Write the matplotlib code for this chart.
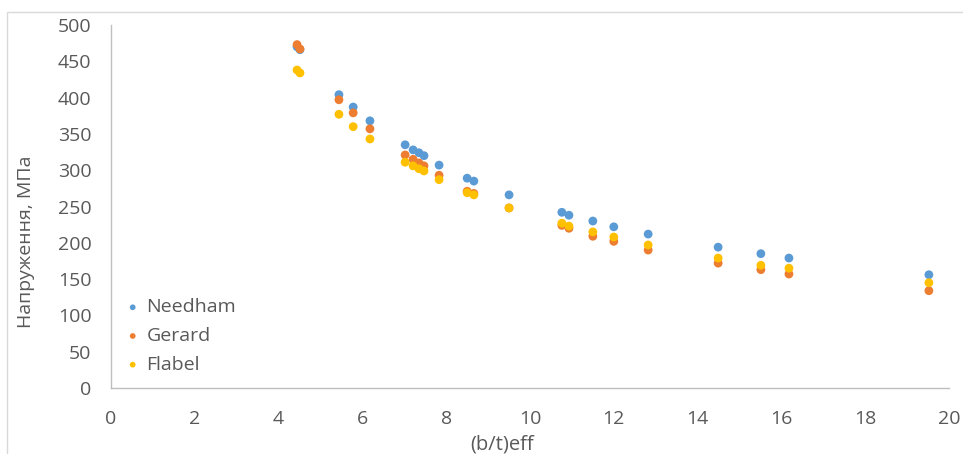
import matplotlib
matplotlib.use("Agg")
import matplotlib.pyplot as plt
from matplotlib.patches import Rectangle

# (b/t)eff values and stresses, MPa
bt_eff = [4.44, 4.51, 5.44, 5.78, 6.18, 7.02, 7.21, 7.35, 7.47, 7.83,
          8.50, 8.66, 9.50, 10.76, 10.93, 11.50, 12.00, 12.82, 14.49,
          15.51, 16.18, 19.52]
needham = [470, 466, 404, 387, 368, 335, 328, 324, 320, 307,
           289, 285, 266, 242, 238, 230, 222, 212, 194,
           185, 179, 156]
gerard = [473, 467, 397, 379, 357, 321, 315, 310, 306, 293,
          271, 268, 248, 224, 220, 209, 202, 190, 172,
          163, 157, 134]
flabel = [438, 434, 377, 360, 343, 311, 306, 302, 299, 287,
          269, 266, 248, 227, 223, 215, 208, 197, 179,
          169, 165, 145]

series = [("Needham", needham, "#5B9BD5"),
          ("Gerard", gerard, "#ED7D31"),
          ("Flabel", flabel, "#FFC000")]

plt.rcParams['font.family'] = ['Open Sans', 'DejaVu Sans']
grey = "#595959"

fig = plt.figure(figsize=(9.63, 4.54), dpi=100)
ax = fig.add_axes([111/963, 66/454, 838/963, 363/454])

# light outer frame of the chart area
fig.patches.append(Rectangle((7/963, -0.05), 1.0, (454-12)/454 + 0.05,
                             transform=fig.transFigure, fill=False,
                             edgecolor="#d9d9d9", linewidth=1.0))

for name, vals, col in series:
    ax.scatter(bt_eff, vals, s=40, color=col, label=name, zorder=3,
               edgecolors="none")

ax.set_xlim(0, 20)
ax.set_ylim(0, 500)
ax.set_xticks(range(0, 21, 2))
ax.set_yticks(range(0, 501, 50))

for side in ["top", "right"]:
    ax.spines[side].set_visible(False)
for side in ["left", "bottom"]:
    ax.spines[side].set_color("#bfbfbf")
    ax.spines[side].set_linewidth(1.0)

ax.tick_params(length=0, labelsize=14, colors=grey)
ax.tick_params(axis="y", pad=14)
ax.tick_params(axis="x", pad=16)

ax.set_xlabel("(b/t)eff", fontsize=14.5, color=grey, va="center")
ax.xaxis.set_label_coords(0.467, -0.155)
ax.set_ylabel("Напруження, МПа", fontsize=14, color=grey, va="center")
ax.yaxis.set_label_coords(-0.101, 0.404)

leg = ax.legend(loc="center left", bbox_to_anchor=(0.0143, 0.143),
                frameon=False, fontsize=14, markerscale=0.65,
                handlelength=1.0, handletextpad=0.2, labelspacing=0.55,
                borderpad=0, borderaxespad=0)
for t in leg.get_texts():
    t.set_color(grey)

fig.savefig("out.png", dpi=100)
